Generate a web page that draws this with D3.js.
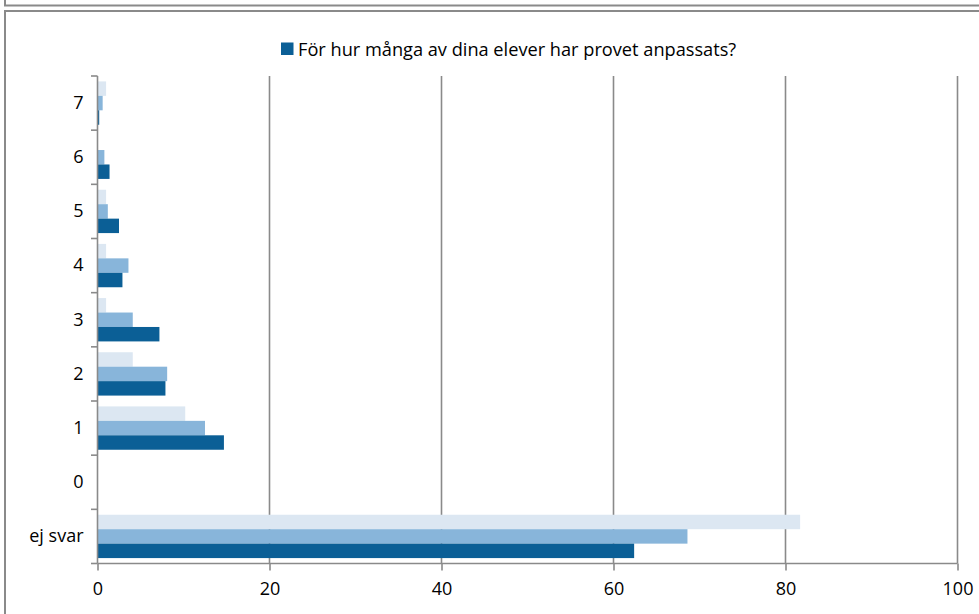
<!DOCTYPE html>
<html><head><meta charset="utf-8">
<script src="https://cdn.jsdelivr.net/npm/d3@7/dist/d3.min.js"></script>
<style>body{margin:0;background:#fff}svg{display:block}</style>
</head><body><svg id="c" width="979" height="614"></svg>
<script>
const categories = ["ej svar","0","1","2","3","4","5","6","7"];
const seriesLight = [81.7,0,10.2,4.1,1.0,1.0,1.0,0,1.0];
const seriesMedium = [68.6,0,12.5,8.1,4.1,3.6,1.2,0.8,0.6];
const seriesDark = [62.4,0,14.7,7.9,7.2,2.9,2.5,1.4,0.2];
const xTicks = [0,20,40,60,80,100];
const legendLabel = "För hur många av dina elever har provet anpassats?";
const colors = ["#dce7f2","#88b5da","#0b5f96"];

const svg = d3.select("#c");
const font = "'Open Sans', 'Noto Sans', sans-serif";
const grid = "#8a8a8a";

// frame lines
svg.append("path").attr("d","M5,0 V5.5 H979").attr("fill","none").attr("stroke",grid).attr("stroke-width",2);
svg.append("path").attr("d","M5,614 V11 H979").attr("fill","none").attr("stroke",grid).attr("stroke-width",2);

const x = d3.scaleLinear().domain([0,100]).range([97.5,957.5]);
const y = d3.scaleBand().domain(categories.slice().reverse()).range([76,563.5]);
const inner = d3.scaleBand().domain([0,1,2]).range([0,y.bandwidth()]).paddingOuter(0.375).paddingInner(0);

// gridlines
svg.append("g").selectAll("line").data(xTicks.slice(1)).join("line")
  .attr("x1",d=>x(d)).attr("x2",d=>x(d)).attr("y1",76).attr("y2",563.5)
  .attr("stroke",grid).attr("stroke-width",1.6);

const data = categories.map((c,i)=>({c, v:[seriesLight[i],seriesMedium[i],seriesDark[i]]}));
const g = svg.append("g");
data.forEach(d=>{
  d.v.forEach((v,k)=>{
    if(v<=0) return;
    g.append("rect").attr("x",x(0)).attr("y",y(d.c)+inner(k))
      .attr("width",x(v)-x(0)).attr("height",inner.bandwidth())
      .attr("fill",colors[k]);
  });
});

// axes
const xa = svg.append("g").attr("transform","translate(0,563.5)")
  .call(d3.axisBottom(x).tickValues(xTicks).tickSize(7).tickPadding(12));
const ya = svg.append("g").attr("transform","translate(97.5,0)")
  .call(d3.axisLeft(y).tickSize(0).tickPadding(14));
// y ticks at band boundaries
const bounds = categories.map(c=>y(c)).concat([563.5]);
svg.append("g").selectAll("line").data(bounds).join("line")
  .attr("x1",91).attr("x2",97.5).attr("y1",d=>d).attr("y2",d=>d)
  .attr("stroke",grid).attr("stroke-width",1.6);
[xa,ya].forEach(a=>{
  a.attr("font-size",null).attr("font-family",null);
  a.select(".domain").attr("stroke",grid).attr("stroke-width",1.6);
  a.selectAll(".tick line").attr("stroke",grid).attr("stroke-width",1.6);
  a.selectAll("text").style("font-family",font).style("font-size","18px").attr("fill","#000");
});
ya.select(".domain").attr("d","M0,76V563.5");
xa.select(".domain").attr("d",`M${x(0)},0H${x(100)}`);

// legend
svg.append("rect").attr("x",281).attr("y",42.5).attr("width",12.5).attr("height",12.5).attr("fill",colors[2]);
svg.append("text").attr("x",298).attr("y",55.5).style("font-family",font).style("font-size","18.2px")
  .attr("fill","#000").text(legendLabel);
</script></body></html>
